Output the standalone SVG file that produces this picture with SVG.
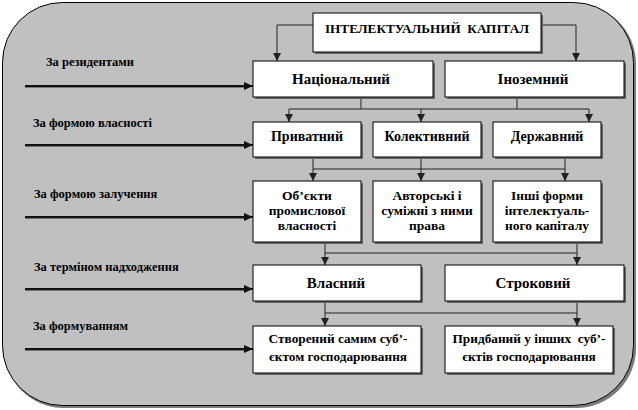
<svg xmlns="http://www.w3.org/2000/svg" width="638" height="410" viewBox="0 0 638 410">
<defs>
<marker id="ah" viewBox="0 0 8 8" refX="8" refY="4" markerWidth="8" markerHeight="8" markerUnits="userSpaceOnUse" orient="auto">
<path d="M0,0 L8,4 L0,8 Z" fill="#222"/>
</marker>
<marker id="ahL" viewBox="0 0 9 8" refX="9" refY="4" markerWidth="9" markerHeight="8" markerUnits="userSpaceOnUse" orient="auto">
<path d="M0,0 L9,4 L0,8 Z" fill="#111"/>
</marker>
</defs>
<style>
.bx{fill:#fff;stroke:#000;stroke-width:1}
.sh{fill:#666}
.t{font-weight:bold;fill:#000;text-anchor:middle}
.t15{font-size:15px}
.t14{font-size:14px}
.t13{font-size:13.5px}
.t133{font-size:13.3px}
.lb{font-weight:bold;font-size:12.5px;fill:#000}
.c{fill:none;stroke:#222;stroke-width:1}
.la{fill:none;stroke:#111;stroke-width:2}
.ls{fill:none;stroke:#777;stroke-width:1}
</style>
<g id="background">
<rect x="4" y="4" width="632" height="404" rx="60" ry="60" fill="#7a7a7a"/>
<rect x="2.5" y="2.5" width="631" height="403" rx="60" ry="60" fill="#c0c0c0" stroke="#000" stroke-width="1"/>
</g>
<g font-family="Liberation Serif, Times New Roman, serif">
<g id="labels">
<text class="lb" x="46" y="66">За резидентами</text>
<text class="lb" x="33" y="127">За формою власності</text>
<text class="lb" x="34" y="198">За формою залучення</text>
<text class="lb" x="34" y="271">За терміном надходження</text>
<text class="lb" x="33" y="330">За формуванням</text>
</g>
<g id="connectors">
<path class="c" d="M313,25 H277 V61" marker-end="url(#ah)"/>
<path class="c" d="M541,25 H576 V61" marker-end="url(#ah)"/>
<path class="c" d="M361,97 V109 M517,97 V109 M289,109 H589"/>
<path class="c" d="M289,109 V122" marker-end="url(#ah)"/>
<path class="c" d="M421,109 V122" marker-end="url(#ah)"/>
<path class="c" d="M589,109 V122" marker-end="url(#ah)"/>
<path class="c" d="M313,157 V169 H565 M565,157 V169"/>
<path class="c" d="M313,169 V181" marker-end="url(#ah)"/>
<path class="c" d="M421,157 V181" marker-end="url(#ah)"/>
<path class="c" d="M565,169 V181" marker-end="url(#ah)"/>
<path class="c" d="M325,242 V253 H577 M577,242 V253"/>
<path class="c" d="M325,253 V265" marker-end="url(#ah)"/>
<path class="c" d="M577,253 V265" marker-end="url(#ah)"/>
<path class="c" d="M325,301 V313 H577 M577,301 V313"/>
<path class="c" d="M325,313 V326" marker-end="url(#ah)"/>
<path class="c" d="M577,313 V326" marker-end="url(#ah)"/>
<path class="ls" d="M25,87.5 H245 M25,146.5 H245 M25,218.5 H245 M25,290.5 H245 M25,350.5 H245"/>
<path class="la" d="M25,86 H253" marker-end="url(#ahL)"/>
<path class="la" d="M25,145 H253" marker-end="url(#ahL)"/>
<path class="la" d="M25,217 H253" marker-end="url(#ahL)"/>
<path class="la" d="M25,289 H253" marker-end="url(#ahL)"/>
<path class="la" d="M25,349 H253" marker-end="url(#ahL)"/>
</g>
<g id="n-capital">
<rect class="sh" x="315" y="15" width="228" height="39"/>
<rect class="bx" x="313" y="13" width="228" height="39"/>
<text class="t" font-size="13.2" x="427" y="32.5" xml:space="preserve">ІНТЕЛЕКТУАЛЬНИЙ  КАПІТАЛ</text>
</g>
<g id="n-national">
<rect class="sh" x="255" y="63" width="180" height="36"/>
<rect class="bx" x="253" y="61" width="180" height="36"/>
<text class="t t15" x="341" y="84">Національний</text>
</g>
<g id="n-foreign">
<rect class="sh" x="447" y="63" width="179" height="36"/>
<rect class="bx" x="445" y="61" width="179" height="36"/>
<text class="t t15" x="533" y="84">Іноземний</text>
</g>
<g id="n-private">
<rect class="sh" x="255" y="124" width="108" height="35"/>
<rect class="bx" x="253" y="122" width="108" height="35"/>
<text class="t t14" x="307" y="141">Приватний</text>
</g>
<g id="n-collective">
<rect class="sh" x="375" y="124" width="108" height="35"/>
<rect class="bx" x="373" y="122" width="108" height="35"/>
<text class="t t14" x="427" y="141">Колективний</text>
</g>
<g id="n-state">
<rect class="sh" x="495" y="124" width="108" height="35"/>
<rect class="bx" x="493" y="122" width="108" height="35"/>
<text class="t t14" x="547" y="141">Державний</text>
</g>
<g id="n-industrial">
<rect class="sh" x="255" y="183" width="108" height="61"/>
<rect class="bx" x="253" y="181" width="108" height="61"/>
<text class="t t13" x="307" y="199.5">Об’єкти</text>
<text class="t t13" x="307" y="214.5">промислової</text>
<text class="t t13" x="307" y="229.5">власності</text>
</g>
<g id="n-copyright">
<rect class="sh" x="375" y="183" width="108" height="61"/>
<rect class="bx" x="373" y="181" width="108" height="61"/>
<text class="t t13" x="427" y="199.5">Авторські і</text>
<text class="t t13" x="427" y="214.5">суміжні з ними</text>
<text class="t t13" x="427" y="229.5">права</text>
</g>
<g id="n-other">
<rect class="sh" x="495" y="183" width="108" height="61"/>
<rect class="bx" x="493" y="181" width="108" height="61"/>
<text class="t t13" x="547" y="199.5">Інші форми</text>
<text class="t t13" x="547" y="214.5">інтелектуаль-</text>
<text class="t t13" x="547" y="229.5">ного капіталу</text>
</g>
<g id="n-own">
<rect class="sh" x="255" y="267" width="168" height="36"/>
<rect class="bx" x="253" y="265" width="168" height="36"/>
<text class="t t15" x="336" y="288">Власний</text>
</g>
<g id="n-term">
<rect class="sh" x="447" y="267" width="179" height="36"/>
<rect class="bx" x="445" y="265" width="179" height="36"/>
<text class="t t15" x="533" y="288">Строковий</text>
</g>
<g id="n-created">
<rect class="sh" x="255" y="328" width="168" height="47"/>
<rect class="bx" x="253" y="326" width="168" height="47"/>
<text class="t t133" x="338" y="342.5">Створений самим суб’-</text>
<text class="t t133" x="338" y="360.5">єктом господарювання</text>
</g>
<g id="n-acquired">
<rect class="sh" x="447" y="328" width="168" height="47"/>
<rect class="bx" x="445" y="326" width="168" height="47"/>
<text class="t t133" x="529" y="342.5" xml:space="preserve">Придбаний у інших  суб’-</text>
<text class="t t133" x="529" y="360.5">єктів господарювання</text>
</g>
</g>
</svg>
